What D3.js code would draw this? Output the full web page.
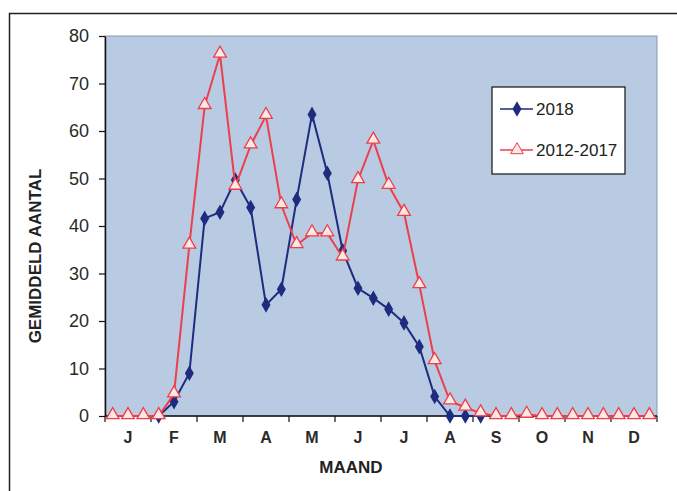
<!DOCTYPE html>
<html>
<head>
<meta charset="utf-8">
<script src="https://cdn.jsdelivr.net/npm/d3@7"></script>
<style>
  body { margin: 0; background: #fff; }
  text { font-family: Arial, "Liberation Sans", sans-serif; }
</style>
</head>
<body>
<div id="chart"></div>
<script>
// Month labels (each month split into 3 periods of ~10 days)
var months = ["J", "F", "M", "A", "M", "J", "J", "A", "S", "O", "N", "D"];
var yTicks = [0, 10, 20, 30, 40, 50, 60, 70, 80];

// 2018 values (null = not drawn)
var series2018 = [null, null, null, 0, 3, 9, 41.6, 42.9, 49.7, 43.9, 23.4, 26.7,
  45.6, 63.5, 51.1, 34.8, 26.9, 24.8, 22.5, 19.6, 14.6, 4.1, 0, 0, 0,
  null, null, null, null, null, null, null, null, null, null, null];

// 2012-2017 average
var series1217 = [0, 0, 0, 0, 4.6, 35.9, 65.3, 76.1, 48.3, 57, 63.2, 44.4,
  36, 38.5, 38.5, 33.4, 49.7, 58, 48.5, 42.8, 27.6, 11.6, 3.1, 1.8, 0.6,
  0, 0, 0.3, 0, 0, 0, 0, 0, 0, 0, 0];

var W = 677, H = 491;
var margin = { top: 36, right: 20, bottom: 75, left: 105 }, // plot box 105..657, 36..416
    width = 657 - margin.left,
    height = 416 - margin.top;

var svg = d3.select("#chart").append("svg")
    .attr("width", W)
    .attr("height", H);

// Outer frame
svg.append("rect")
    .attr("x", 9.5).attr("y", 13.5)
    .attr("width", W + 10).attr("height", H + 10)
    .attr("fill", "none").attr("stroke", "#222").attr("stroke-width", 1.5);

var g = svg.append("g")
    .attr("transform", "translate(" + margin.left + "," + margin.top + ")");

var periods = d3.range(36);
var x = d3.scaleBand().domain(periods).range([0, width]);
var xMonth = d3.scaleBand().domain(d3.range(12)).range([0, width]);
var y = d3.scaleLinear().domain([0, 80]).range([height, 0]);
var px = function (i) { return x(i) + x.bandwidth() / 2; };

// Plot background
g.append("rect")
    .attr("width", width).attr("height", height)
    .attr("fill", "#b8cbe3")
    .attr("stroke", "#8a97a8").attr("stroke-width", 1);

// Y axis
var yAxis = g.append("g")
    .call(d3.axisLeft(y).tickValues(yTicks).tickSize(6).tickPadding(10).tickSizeOuter(0));
yAxis.select(".domain").attr("stroke", "#111").attr("stroke-width", 1.5);
yAxis.selectAll(".tick line").attr("stroke", "#111").attr("stroke-width", 1.2);
yAxis.selectAll(".tick text")
    .attr("font-size", 18).attr("fill", "#2a2a2a")
    .style("font-family", "Arial, 'Liberation Sans', sans-serif");

// X axis: ticks at month boundaries
var xAxisG = g.append("g").attr("transform", "translate(0," + height + ")");
xAxisG.append("line")
    .attr("x1", 0).attr("x2", width)
    .attr("stroke", "#111").attr("stroke-width", 1.5);
xAxisG.selectAll(".mtick")
    .data(d3.range(13))
  .enter().append("line")
    .attr("x1", function (d) { return d * xMonth.bandwidth(); })
    .attr("x2", function (d) { return d * xMonth.bandwidth(); })
    .attr("y1", 0).attr("y2", 6)
    .attr("stroke", "#111").attr("stroke-width", 1.2);
xAxisG.selectAll(".mlabel")
    .data(months)
  .enter().append("text")
    .attr("x", function (d, i) { return xMonth(i) + xMonth.bandwidth() / 2; })
    .attr("y", 27)
    .attr("text-anchor", "middle")
    .attr("font-size", 16).attr("font-weight", "bold")
    .attr("fill", "#2a2a2a")
    .text(function (d) { return d; });

// Axis titles
svg.append("text")
    .attr("transform", "translate(41,256) rotate(-90)")
    .attr("text-anchor", "middle")
    .attr("font-size", 17).attr("font-weight", "bold").attr("fill", "#222")
    .text("GEMIDDELD AANTAL");
svg.append("text")
    .attr("x", 351).attr("y", 473)
    .attr("text-anchor", "middle")
    .attr("font-size", 17).attr("font-weight", "bold").attr("fill", "#222")
    .text("MAAND");

var blue = "#1f2b7e", red = "#ec3f4c";

var line = d3.line()
    .defined(function (d) { return d != null; })
    .x(function (d, i) { return px(i); })
    .y(function (d) { return y(d); });

var diamond = d3.symbol().type(d3.symbolDiamond).size(70);
var triangle = d3.symbol().type(d3.symbolTriangle).size(70);

// 2018 series
g.append("path").datum(series2018)
    .attr("fill", "none").attr("stroke", blue).attr("stroke-width", 2)
    .attr("d", line);
g.selectAll(".d18")
    .data(series2018.map(function (v, i) { return { v: v, i: i }; }).filter(function (d) { return d.v != null; }))
  .enter().append("path")
    .attr("transform", function (d) { return "translate(" + px(d.i) + "," + y(d.v) + ")"; })
    .attr("d", diamond)
    .attr("fill", blue);

// 2012-2017 series
g.append("path").datum(series1217)
    .attr("fill", "none").attr("stroke", red).attr("stroke-width", 2)
    .attr("d", line);
g.selectAll(".d1217")
    .data(series1217.map(function (v, i) { return { v: v, i: i }; }))
  .enter().append("path")
    .attr("transform", function (d) { return "translate(" + px(d.i) + "," + (y(d.v) - 1) + ")"; })
    .attr("d", triangle)
    .attr("fill", "#fde9e4").attr("stroke", red).attr("stroke-width", 1.3);

// Legend
var leg = svg.append("g").attr("transform", "translate(492,87)");
leg.append("rect")
    .attr("width", 133).attr("height", 87)
    .attr("fill", "#fff").attr("stroke", "#222").attr("stroke-width", 1.3);
var legItems = [
  { name: "2018", color: blue, sym: diamond, fill: blue, y: 22 },
  { name: "2012-2017", color: red, sym: triangle, fill: "#fde9e4", y: 63 }
];
legItems.forEach(function (it) {
  leg.append("line")
      .attr("x1", 8).attr("x2", 41).attr("y1", it.y).attr("y2", it.y)
      .attr("stroke", it.color).attr("stroke-width", 1.5);
  leg.append("path")
      .attr("transform", "translate(25," + it.y + ")")
      .attr("d", it.sym)
      .attr("fill", it.fill)
      .attr("stroke", it.name === "2018" ? "none" : it.color);
  leg.append("text")
      .attr("x", 44).attr("y", it.y + 6)
      .attr("font-size", 17).attr("fill", "#222")
      .text(it.name);
});
</script>
</body>
</html>
